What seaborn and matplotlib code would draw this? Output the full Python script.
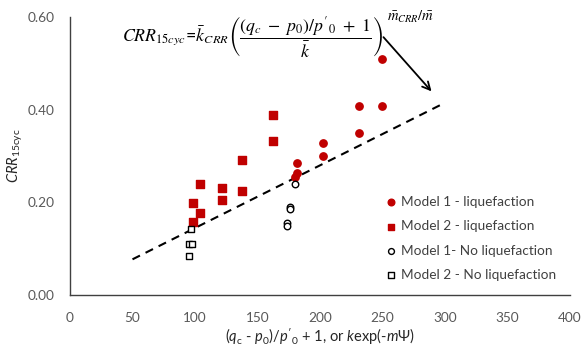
import numpy as np
import pandas as pd
import matplotlib
matplotlib.use("Agg")
import matplotlib.pyplot as plt
import seaborn as sns

# ---- data ----
m1_liq_x = [249.6, 249.6, 231.2, 231.2, 202.0, 202.0, 181.9, 181.9, 180.0]
m1_liq_y = [0.509, 0.407, 0.407, 0.350, 0.329, 0.301, 0.284, 0.264, 0.255]

m2_liq_x = [162.0, 162.0, 137.8, 137.8, 121.9, 121.9, 103.8, 103.8, 98.4, 98.4]
m2_liq_y = [0.389, 0.332, 0.291, 0.225, 0.231, 0.206, 0.240, 0.178, 0.199, 0.158]

m1_no_x = [180.0, 175.8, 175.8, 173.9, 173.9]
m1_no_y = [0.240, 0.189, 0.185, 0.155, 0.150]

m2_no_x = [96.6, 95.2, 97.6, 95.4]
m2_no_y = [0.142, 0.110, 0.110, 0.085]

line_x = [50, 300]
line_y = [0.077, 0.415]

labels = ["Model 1 - liquefaction", "Model 2 - liquefaction",
          "Model 1- No liquefaction", "Model 2 - No liquefaction"]

df = pd.concat([
    pd.DataFrame({"x": m1_liq_x, "y": m1_liq_y, "g": labels[0]}),
    pd.DataFrame({"x": m2_liq_x, "y": m2_liq_y, "g": labels[1]}),
    pd.DataFrame({"x": m1_no_x, "y": m1_no_y, "g": labels[2]}),
    pd.DataFrame({"x": m2_no_x, "y": m2_no_y, "g": labels[3]}),
], ignore_index=True)
line_df = pd.DataFrame({"x": line_x, "y": line_y})

sns.set_style("white")
plt.rcParams["font.family"] = ["Lato", "DejaVu Sans"]
plt.rcParams["mathtext.fontset"] = "custom"
plt.rcParams["mathtext.rm"] = "Lato"
plt.rcParams["mathtext.it"] = "Lato:italic"
plt.rcParams["mathtext.bf"] = "Lato:bold"

fig = plt.figure(figsize=(5.82, 3.49), dpi=100)
ax = fig.add_axes([70/582, 1-295/349, 500/582, 278/349])

red = "#C00000"
styles = {
    labels[0]: dict(marker="o", facecolor=red, edgecolor=red, s=28),
    labels[1]: dict(marker="s", facecolor=red, edgecolor=red, s=28),
    labels[2]: dict(marker="o", facecolor="white", edgecolor="black", s=22),
    labels[3]: dict(marker="s", facecolor="white", edgecolor="black", s=22),
}
for lab in labels:
    st = styles[lab]
    sns.scatterplot(data=df[df["g"] == lab], x="x", y="y", ax=ax,
                    marker=st["marker"], color=st["facecolor"],
                    edgecolor=st["edgecolor"], linewidth=1.0, s=st["s"],
                    label=lab, zorder=3)

sns.lineplot(data=line_df, x="x", y="y", ax=ax, color="black",
             linestyle=(0, (4, 3)), linewidth=1.5, zorder=2)

ax.set_xlim(0, 400)
ax.set_ylim(0, 0.6)
ax.set_xticks(np.arange(0, 401, 50))
ax.set_yticks([0, 0.2, 0.4, 0.6])
ax.set_yticklabels(["0.00", "0.20", "0.40", "0.60"])
ax.set_xticks(np.arange(0, 401, 10), minor=True)
ax.set_yticks(np.arange(0, 0.601, 0.04), minor=True)

for s in ["top", "right"]:
    ax.spines[s].set_visible(False)
for s in ["left", "bottom"]:
    ax.spines[s].set_color("#404040")
    ax.spines[s].set_linewidth(1.0)
ax.tick_params(axis="both", which="both", direction="out", color="#404040",
               length=4, width=0.9, labelsize=9.8, labelcolor="#595959")
ax.tick_params(axis="x", which="major", pad=8)
ax.tick_params(axis="y", which="major", pad=7)

ax.set_xlabel(r"($\mathit{q}_\mathrm{c}$ - $\mathit{p}_0$)/$\mathit{p'}_0$ + 1, or $\mathit{k}$exp(-$\mathit{m\Psi}$)",
              fontsize=10.5, color="#262626", labelpad=1)
ax.set_ylabel(r"$\mathit{CRR}_\mathrm{15cyc}$", fontsize=10.5, color="#262626", labelpad=2)

leg = ax.legend(loc="upper left", bbox_to_anchor=(0.606, 0.40), frameon=False,
                fontsize=9.8, labelspacing=0.9, handletextpad=0.25,
                handlelength=0.9, markerscale=0.9)
for t in leg.get_texts():
    t.set_color("#404040")

eq = (r"$CRR_{15cyc}$=$\bar{k}_{CRR}\left(\dfrac{(q_c\ -\ p_0)/p'_0\ +\ 1}{\bar{k}}\right)$")
eq_txt = fig.text(122/582, 1-37/349, eq, fontsize=12.8, ha="left", va="center",
                  math_fontfamily="stix", color="black")
fig.canvas.draw()
bb = eq_txt.get_window_extent()
fig.text((bb.x1 + 4) / fig.bbox.width, 1-17/349, r"$\bar{m}_{CRR}/\bar{m}$",
         fontsize=10.5, ha="left", va="center", math_fontfamily="stix",
         color="black")

ax.annotate("", xy=(290.7, 0.435), xytext=(249.3, 0.561),
            arrowprops=dict(arrowstyle="->", color="black", lw=1.3,
                            mutation_scale=14))

fig.savefig("out.png", dpi=100)
